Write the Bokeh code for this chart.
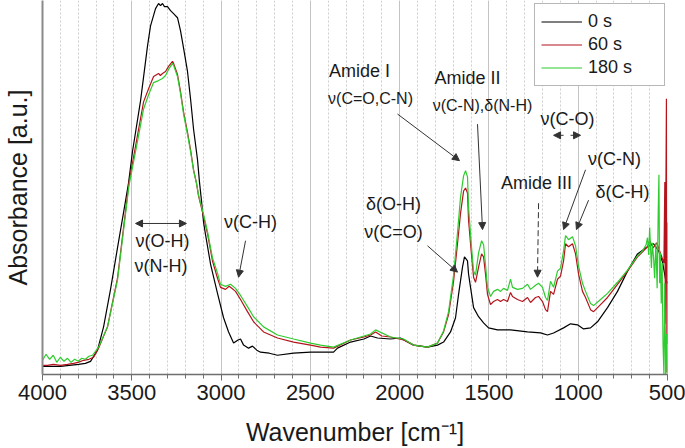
from bokeh.plotting import figure
from bokeh.models import (Range1d, SingleIntervalTicker, FixedTicker, Label, Arrow,
                          NormalHead, Legend, LegendItem)
from bokeh.embed import file_html
from bokeh.resources import INLINE

# ---------------- data ----------------
wn_0s = [4000, 3950, 3899, 3850, 3798, 3760, 3731, 3692, 3658, 3619, 3580, 3546, 3518, 3496,
         3451, 3412, 3395, 3367, 3350, 3339, 3328, 3317, 3300, 3283, 3266, 3244, 3227, 3210,
         3188, 3171, 3154, 3132, 3121, 3110, 3098, 3087, 3059, 3020, 2986, 2958, 2930, 2905,
         2891, 2874, 2846, 2824, 2800, 2779, 2730, 2684, 2594, 2499, 2370, 2348, 2275, 2200,
         2163, 2124, 2051, 1995, 1922, 1844, 1788, 1754, 1715, 1687, 1670, 1648, 1637, 1620,
         1614, 1603, 1586, 1558, 1530, 1502, 1452, 1379, 1284, 1211, 1172, 1138, 1082, 1043,
         1004, 970, 931, 892, 836, 780, 724, 668, 612, 578, 550, 528, 511, 500]
abs_0s = [0.08, 0.08, 0.08, 0.09, 0.10, 0.11, 0.13, 0.24, 0.47, 0.84, 1.25, 1.60, 1.89, 2.20,
          2.70, 3.24, 3.44, 3.61, 3.66, 3.64, 3.66, 3.63, 3.63, 3.59, 3.56, 3.52, 3.39, 3.22,
          2.99, 2.72, 2.42, 2.12, 1.90, 1.72, 1.50, 1.38, 1.09, 0.80, 0.56, 0.42, 0.31, 0.34,
          0.35, 0.29, 0.26, 0.28, 0.24, 0.22, 0.21, 0.19, 0.21, 0.22, 0.22, 0.26, 0.32, 0.35,
          0.38, 0.36, 0.35, 0.36, 0.29, 0.27, 0.29, 0.32, 0.42, 0.56, 0.79, 1.06, 1.16, 1.12,
          0.99, 0.86, 0.66, 0.57, 0.51, 0.46, 0.44, 0.44, 0.42, 0.41, 0.39, 0.41, 0.46, 0.50,
          0.49, 0.45, 0.46, 0.52, 0.66, 0.82, 1.02, 1.19, 1.26, 1.29, 1.22, 1.11, 0.94, 0.90]

wn_60s = [4000, 3972, 3940, 3899, 3860, 3826, 3800, 3770, 3740, 3714, 3686, 3636, 3580, 3516,
          3468, 3434, 3406, 3378, 3350, 3340, 3328, 3311, 3294, 3272, 3266, 3244, 3227, 3210,
          3188, 3171, 3154, 3138, 3126, 3098, 3076, 3048, 3020, 3003, 2975, 2955, 2947, 2919,
          2891, 2852, 2818, 2762, 2684, 2594, 2499, 2443, 2370, 2275, 2200, 2163, 2135, 2100,
          2051, 1978, 1922, 1844, 1788, 1754, 1726, 1698, 1676, 1659, 1642, 1631, 1620, 1614,
          1598, 1586, 1575, 1558, 1541, 1530, 1519, 1508, 1491, 1474, 1452, 1435, 1418, 1396,
          1379, 1368, 1340, 1312, 1284, 1267, 1239, 1222, 1200, 1183, 1172, 1155, 1138, 1116,
          1099, 1082, 1071, 1054, 1032, 1015, 998, 976, 959, 931, 914, 875, 836, 780, 724, 668,
          612, 600, 580, 560, 540, 520, 515, 512, 509, 506, 503, 501, 500]
abs_60s = [0.09, 0.09, 0.10, 0.09, 0.10, 0.11, 0.12, 0.14, 0.15, 0.17, 0.26, 0.47, 0.95, 1.89,
           2.36, 2.69, 2.82, 2.94, 2.97, 2.95, 2.97, 2.99, 3.04, 3.09, 3.07, 2.96, 2.79, 2.59,
           2.39, 2.22, 2.02, 1.89, 1.76, 1.56, 1.39, 1.12, 0.95, 0.86, 0.84, 0.87, 0.86, 0.82,
           0.74, 0.62, 0.52, 0.42, 0.36, 0.32, 0.29, 0.27, 0.26, 0.34, 0.37, 0.39, 0.42, 0.38,
           0.37, 0.34, 0.29, 0.27, 0.31, 0.42, 0.59, 0.92, 1.29, 1.59, 1.81, 1.84, 1.79, 1.52,
           1.19, 0.96, 0.91, 1.06, 1.19, 1.16, 0.99, 0.79, 0.69, 0.72, 0.74, 0.72, 0.74, 0.72,
           0.81, 0.77, 0.74, 0.72, 0.76, 0.71, 0.76, 0.77, 0.72, 0.64, 0.62, 0.82, 0.79, 0.94,
           0.97, 1.12, 1.29, 1.26, 1.29, 1.19, 0.99, 0.82, 0.76, 0.64, 0.62, 0.69, 0.76, 0.89, 1.02, 1.16,
           1.26, 1.32, 1.25, 1.30, 1.20, 1.10, 1.90, 0.50, 1.80, 2.72, 0.02, 1.50, 0.30]

wn_180s = [4000, 3980, 3960, 3940, 3920, 3900, 3880, 3860, 3840, 3820, 3800, 3780, 3760, 3740,
           3720, 3686, 3636, 3580, 3516, 3468, 3434, 3406, 3378, 3350, 3328, 3311, 3294, 3272,
           3266, 3244, 3227, 3210, 3188, 3171, 3154, 3138, 3126, 3098, 3076, 3048, 3020, 3003,
           2975, 2947, 2919, 2891, 2852, 2818, 2762, 2684, 2594, 2499, 2443, 2370, 2275, 2163,
           2135, 2051, 1978, 1922, 1844, 1788, 1754, 1726, 1698, 1676, 1659, 1642, 1631, 1620,
           1614, 1598, 1586, 1575, 1558, 1541, 1530, 1519, 1508, 1491, 1474, 1452, 1435, 1418,
           1396, 1379, 1368, 1340, 1312, 1284, 1267, 1239, 1222, 1200, 1183, 1172, 1155, 1138,
           1116, 1099, 1082, 1071, 1054, 1032, 1015, 998, 976, 959, 931, 914, 875, 836, 780,
           724, 668, 640, 620, 612, 605, 600, 595, 590, 585, 578, 572, 565, 558, 552, 548, 544,
           540, 535, 530, 525, 520, 515, 510, 505, 500]
abs_180s = [0.14, 0.20, 0.15, 0.19, 0.12, 0.17, 0.13, 0.16, 0.12, 0.15, 0.13, 0.16, 0.15, 0.18,
            0.19, 0.27, 0.47, 0.93, 1.86, 2.30, 2.62, 2.76, 2.88, 2.90, 2.92, 2.95, 3.01, 3.07,
            3.05, 2.94, 2.77, 2.57, 2.37, 2.20, 2.01, 1.89, 1.77, 1.58, 1.41, 1.15, 1.00, 0.89,
            0.87, 0.89, 0.85, 0.78, 0.67, 0.57, 0.47, 0.39, 0.35, 0.31, 0.29, 0.27, 0.34, 0.40,
            0.44, 0.37, 0.35, 0.29, 0.27, 0.31, 0.43, 0.62, 0.98, 1.40, 1.75, 1.96, 2.01, 1.95,
            1.65, 1.27, 1.02, 0.98, 1.20, 1.32, 1.28, 1.08, 0.86, 0.77, 0.82, 0.84, 0.82, 0.85,
            0.83, 0.94, 0.86, 0.84, 0.85, 0.89, 0.84, 0.88, 0.90, 0.86, 0.76, 0.73, 0.92, 0.86,
            1.02, 1.05, 1.22, 1.37, 1.33, 1.36, 1.27, 1.07, 0.90, 0.82, 0.70, 0.68, 0.74, 0.80, 0.91,
            1.03, 1.17, 1.22, 1.28, 1.35, 1.18, 1.45, 1.25, 1.05, 1.30, 1.15, 0.95, 1.30, 0.85, 1.60, 1.97, 0.90,
            1.20, 0.70, 1.10, 0.30, 0.00, 0.90, 0.00, 0.40, 0.00]

series_labels = ["0 s", "60 s", "180 s"]
x_ticks_interval = 500

# annotations: (text, wavenumber, absorbance, font size)
ann_texts = [
    ("ν(O-H)", 3328, 1.32, "18px"), ("ν(N-H)", 3336, 1.07, "18px"),
    ("ν(C-H)", 2835, 1.50, "18px"),
    ("Amide I", 2225, 2.99, "18px"), ("ν(C=O,C-N)", 2163, 2.72, "16px"),
    ("Amide II", 1620, 2.93, "18px"), ("ν(C-N),δ(N-H)", 1536, 2.65, "16px"),
    ("δ(O-H)", 2034, 1.68, "18px"), ("ν(C=O)", 2034, 1.41, "18px"),
    ("Amide III", 1234, 1.89, "18px"),
    ("ν(C-O)", 1060, 2.52, "18px"),
    ("ν(C-N)", 797, 2.13, "18px"), ("δ(C-H)", 752, 1.80, "18px"),
]
# arrows: (x_start, y_start, x_end, y_end, double, dashed)
ann_arrows = [
    (3479, 1.49, 3194, 1.49, True, False),
    (2863, 1.32, 2902, 0.96, False, False),
    (2012, 2.57, 1665, 2.11, False, False),
    (1564, 2.47, 1536, 1.43, False, False),
    (1844, 1.27, 1676, 1.01, False, False),
    (1222, 1.69, 1228, 0.96, False, True),
    (1082, 2.36, 1138, 2.36, False, False),
    (1043, 2.36, 987, 2.36, False, False),
    (959, 2.02, 1082, 1.43, False, False),
    (942, 1.72, 1010, 1.43, False, False),
]

FONT = "Liberation Sans"
TXT = "#1a1a1a"

p = figure(width=685, height=448, x_range=Range1d(4000, 500), y_range=Range1d(0, 3.69),
           output_backend="svg", toolbar_location=None,
           min_border_left=42, min_border_right=18, min_border_top=0, min_border_bottom=0)
p.outline_line_color = None
p.background_fill_color = "white"

# x axis
p.xaxis.ticker = SingleIntervalTicker(interval=x_ticks_interval, num_minor_ticks=5)
p.xaxis.axis_label = "Wavenumber [cm⁻¹]"
p.xaxis.axis_label_text_font = FONT
p.xaxis.axis_label_text_font_style = "normal"
p.xaxis.axis_label_text_font_size = "25px"
p.xaxis.axis_label_text_color = TXT
p.xaxis.axis_label_standoff = 15
p.xaxis.major_label_text_font = FONT
p.xaxis.major_label_text_font_size = "22px"
p.xaxis.major_label_text_color = TXT
p.xaxis.major_label_standoff = 4
p.xaxis.axis_line_color = "#6e6e6e"
p.xaxis.axis_line_width = 1.5
p.xaxis.major_tick_line_color = "#6e6e6e"
p.xaxis.minor_tick_line_color = "#6e6e6e"
p.xaxis.major_tick_in = 0
p.xaxis.major_tick_out = 6
p.xaxis.minor_tick_in = 0
p.xaxis.minor_tick_out = 4

# y axis: line and title only
p.yaxis.ticker = FixedTicker(ticks=[])
p.yaxis.axis_label = "Absorbance [a.u.]"
p.yaxis.axis_label_text_font = FONT
p.yaxis.axis_label_text_font_style = "normal"
p.yaxis.axis_label_text_font_size = "25px"
p.yaxis.axis_label_text_color = TXT
p.yaxis.axis_label_standoff = 11
p.yaxis.major_label_standoff = 0
p.yaxis.major_tick_out = 0
p.yaxis.axis_line_color = "#8a8a8a"
p.yaxis.axis_line_width = 2

# grids
p.ygrid.visible = False
p.xgrid.grid_line_color = "#c4c4c4"
p.xgrid.grid_line_width = 1
p.xgrid.minor_grid_line_color = "#cdcdcd"
p.xgrid.minor_grid_line_dash = "2 2"

# series
r0 = p.line(wn_0s, abs_0s, line_color="#000000", line_width=1.2)
r1 = p.line(wn_60s, abs_60s, line_color="#b4141c", line_width=1.2)
r2 = p.line(wn_180s, abs_180s, line_color="#2ecc2e", line_width=1.2)

legend = Legend(items=[LegendItem(label=series_labels[0], renderers=[r0]),
                       LegendItem(label=series_labels[1], renderers=[r1]),
                       LegendItem(label=series_labels[2], renderers=[r2])],
                location=(492, 288), padding=6, spacing=0, margin=0,
                label_height=23, glyph_height=23, glyph_width=41, label_standoff=6,
                label_width=70, label_text_font=FONT, label_text_font_size="18px",
                label_text_color=TXT, border_line_color="#707070", border_line_width=1.5,
                background_fill_color="white", background_fill_alpha=1.0)
p.add_layout(legend)

for text, x, y, fs in ann_texts:
    p.add_layout(Label(x=x, y=y, text=text, text_font=FONT, text_font_size=fs,
                       text_color=TXT, text_align="center", text_baseline="middle"))

for xs, ys, xe, ye, double, dashed in ann_arrows:
    head = dict(size=7, fill_color="#333333", line_color="#333333", line_width=1)
    arr = Arrow(x_start=xs, y_start=ys, x_end=xe, y_end=ye,
                end=NormalHead(**head), start=NormalHead(**head) if double else None,
                line_color="#333333", line_width=1,
                line_dash="6 3" if dashed else "solid")
    p.add_layout(arr)

open("out.html", "w").write(file_html(p, INLINE))
